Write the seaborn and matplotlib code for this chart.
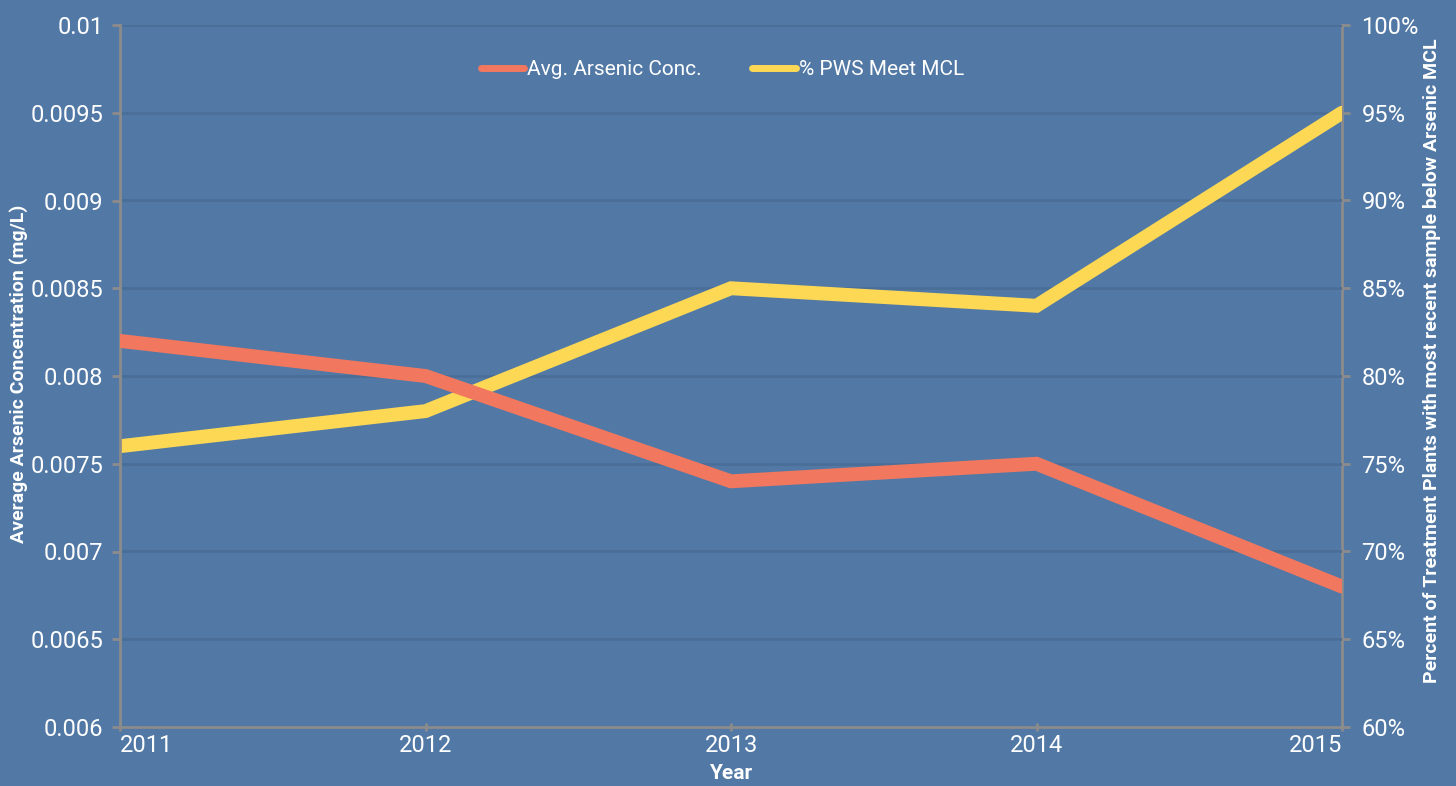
import matplotlib
matplotlib.use("Agg")
import matplotlib.pyplot as plt
import matplotlib.ticker as mticker
import seaborn as sns
import pandas as pd

# data
years = [2011, 2012, 2013, 2014, 2015]
arsenic_conc = [0.0082, 0.0080, 0.0074, 0.0075, 0.0068]
pct_meet_mcl = [76, 78, 85, 84, 95]
left_ticks = [0.006, 0.0065, 0.007, 0.0075, 0.008, 0.0085, 0.009, 0.0095, 0.01]
right_ticks = [60, 65, 70, 75, 80, 85, 90, 95, 100]

df = pd.DataFrame({"year": years, "arsenic": arsenic_conc, "pct": pct_meet_mcl})

bg = "#5279A5"
grid_c = "#4A6E97"
spine_c = "#8C8C8C"
red = "#F2775F"
yellow = "#FDD854"
white = "#FFFFFF"

sns.set_theme(style="white")
plt.rcParams["font.family"] = ["Roboto", "DejaVu Sans"]

fig = plt.figure(figsize=(14.56, 7.86), dpi=100, facecolor=bg)
ax = fig.add_axes([120 / 1456, 1 - 727 / 786, (1342 - 120) / 1456, (727 - 25) / 786])
ax2 = ax.twinx()

# yellow line on the lower twin axis, red on top
sns.lineplot(data=df, x="year", y="pct", ax=ax2, color=yellow, linewidth=10,
             solid_joinstyle="miter", solid_capstyle="round", label="% PWS Meet MCL")
sns.lineplot(data=df, x="year", y="arsenic", ax=ax, color=red, linewidth=10,
             solid_joinstyle="miter", solid_capstyle="round", label="Avg. Arsenic Conc.")

ax.set_zorder(2)
ax2.set_zorder(1)
ax.patch.set_visible(False)
ax2.patch.set_visible(False)

ax.set_xlim(2011, 2015)
ax.set_ylim(0.006, 0.01)
ax2.set_ylim(60, 100)
ax.set_xticks(years)
ax.set_yticks(left_ticks)
ax2.set_yticks(right_ticks)
ax.yaxis.set_major_formatter(mticker.FuncFormatter(lambda v, p: f"{v:g}"))
ax2.yaxis.set_major_formatter(mticker.FuncFormatter(lambda v, p: f"{v:.0f}%"))

# grid on the back axis so it stays under both lines
ax2.grid(axis="y", color=grid_c, linewidth=2)
ax2.set_axisbelow(True)
ax.grid(False)

for a in (ax, ax2):
    for s in a.spines.values():
        s.set_visible(False)
ax.spines["left"].set_visible(True)
ax.spines["bottom"].set_visible(True)
ax2.spines["right"].set_visible(True)
for s in (ax.spines["left"], ax.spines["bottom"], ax2.spines["right"]):
    s.set_color(spine_c)
    s.set_linewidth(2)
    s.set_zorder(0)

ax.tick_params(axis="y", colors=spine_c, labelcolor=white, labelsize=17,
               length=6, width=2, direction="out", left=True, pad=6)
ax.tick_params(axis="x", colors=spine_c, labelcolor=white, labelsize=17,
               length=6, width=2, direction="inout", bottom=True, pad=2)
ax2.tick_params(axis="y", colors=spine_c, labelcolor=white, labelsize=17,
                length=6, width=2, direction="out", right=True, pad=8)

xl = ax.get_xticklabels()
xl[0].set_horizontalalignment("left")
xl[-1].set_horizontalalignment("right")

ax.set_xlabel("Year", color=white, fontsize=15, fontweight="bold")
ax.xaxis.set_label_coords(0.5, -0.052)
ax.set_ylabel("Average Arsenic Concentration (mg/L)", color=white, fontsize=14,
              fontweight="bold", va="center")
ax.yaxis.set_label_coords(-0.083, 0.503)
ax2.set_ylabel("Percent of Treatment Plants with most recent sample below Arsenic MCL",
               color=white, fontsize=14, fontweight="bold", va="center",
               rotation=90)
ax2.yaxis.set_label_coords(1.074, 0.522)

# combined legend
h1, l1 = ax.get_legend_handles_labels()
h2, l2 = ax2.get_legend_handles_labels()
ax2.get_legend().remove()
leg = ax.legend(h1 + h2, l1 + l2, loc="center", bbox_to_anchor=(0.493, 0.936),
                ncol=2, frameon=False, handlelength=2.1,
                handletextpad=0.15, columnspacing=2.4,
                prop={"size": 15})
for line in leg.get_lines():
    line.set_linewidth(5)
for t in leg.get_texts():
    t.set_color(white)

fig.savefig("out.png", dpi=100, facecolor=bg)
